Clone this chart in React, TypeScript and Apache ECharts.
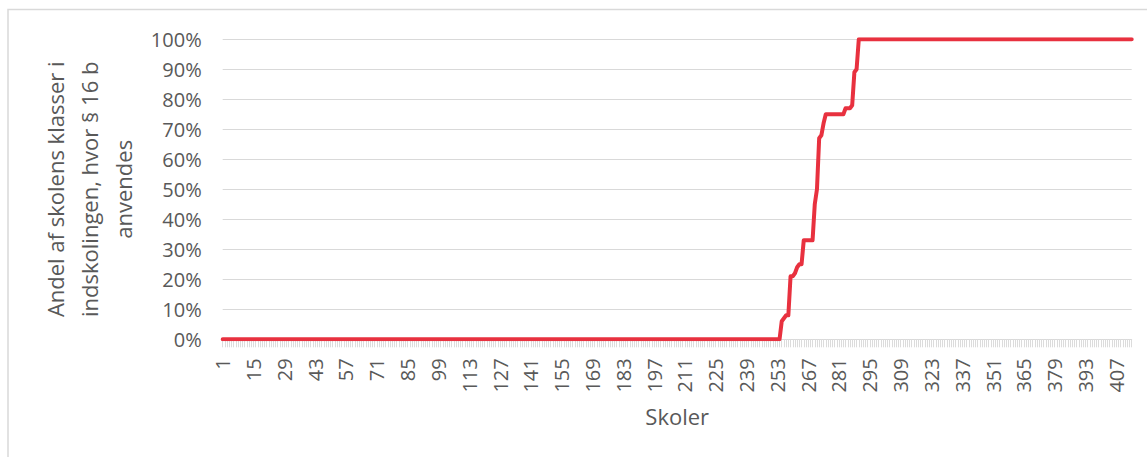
import React, { useEffect, useRef } from 'react';
import * as echarts from 'echarts';

// Schools 1..414 along the category axis
const schoolCount = 414;
const categories: string[] = Array.from({ length: schoolCount }, (_, i) => String(i + 1));

// Share of classes (sorted ascending)
const zeroShareSchools = 254; // schools 1..254 at 0 %
const risingShares = [
  0.06, 0.07, 0.08, 0.08, 0.21, 0.21, 0.22, 0.24, 0.25, 0.25,
  0.33, 0.33, 0.33, 0.33, 0.33, 0.45, 0.5, 0.67, 0.68, 0.72,
  0.75, 0.75, 0.75, 0.75, 0.75, 0.75, 0.75, 0.75, 0.75,
  0.77, 0.77, 0.77, 0.78, 0.89, 0.9,
]; // schools 255..289
const fullShareSchools = 125; // schools 290..414 at 100 %

const yAxisTitle = 'Andel af skolens klasser i\nindskolingen, hvor § 16 b\nanvendes';
const xAxisTitle = 'Skoler';

const shares: number[] = [
  ...new Array(zeroShareSchools).fill(0),
  ...risingShares,
  ...new Array(fullShareSchools).fill(1),
];

const FONT = '"Open Sans", "DejaVu Sans", sans-serif';
const TEXT = '#595959';
const GRID = '#d9d9d9';

export default function App() {
  const ref = useRef<HTMLDivElement>(null);
  useEffect(() => {
    if (!ref.current) return;
    const chart = echarts.init(ref.current, undefined, { renderer: 'svg' });
    chart.setOption({
      animation: false,
      backgroundColor: '#ffffff',
      textStyle: { fontFamily: FONT },
      graphic: [
        {
          type: 'rect',
          shape: { x: 8, y: 9.5, width: 1300, height: 600 },
          style: { fill: 'none', stroke: GRID, lineWidth: 1.5 },
          silent: true,
        },
      ],
      grid: {
        left: 222.7,
        top: 39.3,
        right: 15.3,
        bottom: 117.7,
        containLabel: false,
        outerBoundsMode: 'none',
      },
      xAxis: {
        type: 'category',
        data: categories,
        boundaryGap: false,
        name: xAxisTitle,
        nameLocation: 'middle',
        nameGap: 62,
        nameTextStyle: { color: TEXT, fontSize: 22, fontFamily: FONT, lineHeight: 30 },
        axisLine: { show: true, lineStyle: { color: GRID, width: 1 } },
        axisTick: { show: true, interval: 0, length: 8, lineStyle: { color: '#dcdcdc', width: 1 } },
        axisLabel: {
          interval: 13,
          rotate: 90,
          margin: 19,
          color: TEXT,
          fontSize: 20,
          fontFamily: FONT,
          hideOverlap: false,
        },
        splitLine: { show: false },
      },
      yAxis: {
        type: 'value',
        min: 0,
        max: 1,
        interval: 0.1,
        name: yAxisTitle,
        nameLocation: 'middle',
        nameRotate: 90,
        nameGap: 79,
        nameTextStyle: { color: TEXT, fontSize: 22, fontFamily: FONT, lineHeight: 34, align: 'center' },
        axisLine: { show: false },
        axisTick: { show: false },
        axisLabel: {
          margin: 21,
          color: TEXT,
          fontSize: 20,
          fontFamily: FONT,
          formatter: (v: number) => `${Math.round(v * 100)}%`,
        },
        splitLine: { show: true, lineStyle: { color: GRID, width: 1 } },
      },
      series: [
        {
          type: 'line',
          data: shares,
          symbol: 'none',
          showSymbol: false,
          lineStyle: { color: '#e8313f', width: 4, join: 'round', cap: 'round' },
          itemStyle: { color: '#e8313f' },
          emphasis: { disabled: true },
        },
      ],
    });
    return () => chart.dispose();
  }, []);
  return (
    <div
      ref={ref}
      style={{ position: 'fixed', left: 0, top: 0, width: 1147, height: 457, background: '#fff' }}
    />
  );
}
